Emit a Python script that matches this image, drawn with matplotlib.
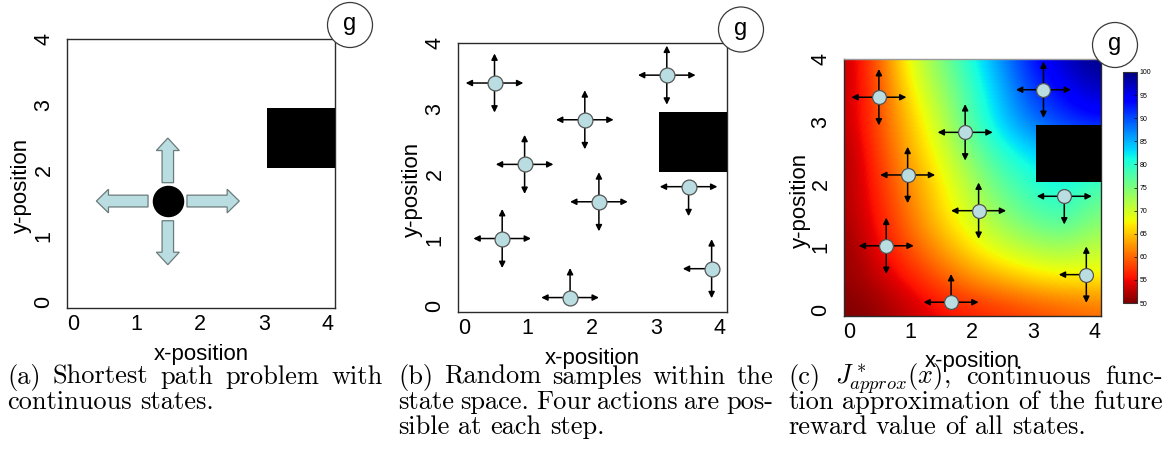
import numpy as np
import matplotlib
matplotlib.use("Agg")
import matplotlib.pyplot as plt
from matplotlib.patches import Rectangle, Circle

plt.rcParams["mathtext.fontset"] = "cm"
SANS = "Liberation Sans"
SERIF = "cmr10"

# ---------------- data ----------------
# obstacle (x0, x1, y0, y1)
obstacle = (3.05, 4.2, 2.03, 2.95)

# agent in panel (a) and its four block-arrow actions
agent_xy = (1.49, 1.53)
action_dirs = ["up", "down", "right", "left"]
action_start = [0.28, 0.30, 0.30, 0.31]
action_tip = [0.96, 0.97, 1.12, 1.12]

# random sample states (panels b and c) and the actions available at each
sample_x = [0.48, 3.17, 1.89, 0.95, 2.11, 3.51, 0.60, 3.87, 1.66]
sample_y = [3.39, 3.51, 2.83, 2.15, 1.58, 1.81, 1.02, 0.56, 0.12]
sample_actions = ["UDLR", "UDLR", "UDLR", "UDLR", "UDLR", "DLR", "UDLR", "UDL", "ULR"]
action_len = 0.45

# approximated future reward J*(x) on a coarse grid (rows: y = 0 .. 4, cols: x = 0 .. 4)
grid_x = [0.0, 0.5, 1.0, 1.5, 2.0, 2.5, 3.0, 3.5, 4.0]
grid_y = [0.0, 0.5, 1.0, 1.5, 2.0, 2.5, 3.0, 3.5, 4.0]
J_values = [
    [50, 51, 53, 55, 56, 57, 58, 59, 60],
    [51, 53, 56, 59, 62, 64, 66, 67, 67],
    [51, 55, 59, 63, 67, 70, 72, 73, 71],
    [52, 56, 61, 66, 70, 74, 77, 79, 75],
    [52, 57, 62, 67, 72, 77, 80, 81, 78],
    [52, 58, 64, 69, 75, 80, 83, 85, 85],
    [53, 59, 65, 71, 78, 84, 88, 91, 93],
    [53, 59, 67, 73, 79, 85, 91, 94, 97],
    [53, 60, 69, 75, 81, 87, 93, 97, 100],
]
cbar_ticks = [50, 55, 60, 65, 70, 75, 80, 85, 90, 95, 100]
axis_ticks = [0, 1, 2, 3, 4]

captions = {
    "a": ["(a) Shortest path problem with", "continuous states."],
    "b": ["(b) Random samples within the", "state space. Four actions are pos-",
          "sible at each step."],
    "c": [r"(c) $J^*_{approx}(x)$, continuous func-",
          "tion approximation of the future", "reward value of all states."],
}

# ---------------- figure ----------------
W, H = 1168, 457
fig = plt.figure(figsize=(W / 100, H / 100), dpi=100)


def px_axes(l, t, r, b):
    return fig.add_axes([l / W, 1 - b / H, (r - l) / W, (b - t) / H])


ax_a = px_axes(67, 39, 335, 308)
ax_b = px_axes(458, 43, 727, 312)
ax_c = px_axes(844, 59, 1101, 316)
cax = px_axes(1123, 72, 1137, 303)

XLIM = (-0.09, 4.11)
YLIM = (-0.10, 4.0)
EDGE = "#2a2a2a"
FILL = "#b9dde0"


def style_axes(ax, ylab_y):
    ax.set_xlim(*XLIM)
    ax.set_ylim(*YLIM)
    ax.set_xticks(axis_ticks)
    ax.set_yticks(axis_ticks)
    ax.tick_params(length=0, labelsize=15.5, colors="black")
    ax.tick_params(axis="x", pad=4)
    ax.tick_params(axis="y", pad=9, labelrotation=90)
    for lab in ax.get_xticklabels() + ax.get_yticklabels():
        lab.set_fontfamily(SANS)
    for lab in ax.get_yticklabels():
        lab.set_va("center")
    for s in ax.spines.values():
        s.set_color(EDGE)
        s.set_linewidth(1.0)
    ax.set_xlabel("x-position", fontsize=16, fontfamily=SANS)
    ax.set_ylabel("y-position", fontsize=16, fontfamily=SANS)
    ax.xaxis.set_label_coords(0.5, -0.135)
    ax.yaxis.set_label_coords(-0.13, ylab_y)


def goal(cx, cy, r=22.5):
    # goal marker sits across the top-right corner of each panel
    circ = Circle((cx, H - cy), r, transform=None, facecolor="white",
                  edgecolor="#3a3a3a", lw=0.9, zorder=10)
    fig.patches.append(circ)
    circ.set_figure(fig)
    fig.text(cx / W, 1 - (cy - 1) / H, "g", fontsize=17, fontfamily=SANS,
             ha="center", va="center", zorder=11)


def obstacle_patch(ax):
    ax.add_patch(Rectangle((obstacle[0], obstacle[2]), obstacle[1] - obstacle[0],
                           obstacle[3] - obstacle[2], facecolor="black",
                           edgecolor="none", zorder=3))


def samples(ax, size):
    for x, y, acts in zip(sample_x, sample_y, sample_actions):
        for a in acts:
            dx, dy = {"U": (0, 1), "D": (0, -1), "L": (-1, 0), "R": (1, 0)}[a]
            ax.annotate("", xy=(x + dx * action_len, y + dy * action_len), xytext=(x, y),
                        arrowprops=dict(arrowstyle="-|>", color="black", lw=1.1,
                                        mutation_scale=9, shrinkA=0, shrinkB=0),
                        zorder=4, annotation_clip=False)
    ax.scatter(sample_x, sample_y, s=size, facecolor=FILL, edgecolor="#555555",
               linewidth=0.9, zorder=6)


# ---- panel (a) ----
style_axes(ax_a, 0.454)
obstacle_patch(ax_a)
for d, s0, s1 in zip(action_dirs, action_start, action_tip):
    dx, dy = {"up": (0, 1), "down": (0, -1), "right": (1, 0), "left": (-1, 0)}[d]
    ax_a.arrow(agent_xy[0] + dx * s0, agent_xy[1] + dy * s0,
               dx * (s1 - s0), dy * (s1 - s0), width=0.18, head_width=0.36,
               head_length=0.19, length_includes_head=True,
               facecolor=FILL, edgecolor="#6b7b7b", lw=0.9, zorder=4)
ax_a.scatter([agent_xy[0]], [agent_xy[1]], s=470, color="black", zorder=5)
goal(350, 25)

# ---- panel (b) ----
style_axes(ax_b, 0.454)
obstacle_patch(ax_b)
samples(ax_b, 115)
goal(741, 29.5)

# ---- panel (c) ----
im = ax_c.imshow(np.array(J_values, dtype=float), origin="lower", cmap="jet_r",
                 vmin=50, vmax=100, interpolation="bicubic", aspect="auto",
                 extent=(grid_x[0] - 0.25, grid_x[-1] + 0.25,
                         grid_y[0] - 0.25, grid_y[-1] + 0.25), zorder=1)
style_axes(ax_c, 0.451)
obstacle_patch(ax_c)
samples(ax_c, 100)
ax_c.spines["top"].set_color("#9a9a9a")
goal(1115, 45)

cb = fig.colorbar(im, cax=cax, ticks=cbar_ticks)
cb.outline.set_linewidth(0.8)
cb.outline.set_edgecolor("#333333")
cax.tick_params(labelsize=5, length=2, width=0.5, direction="in", pad=2)
for lab in cax.get_yticklabels():
    lab.set_fontfamily(SANS)

# ---------------- captions ----------------
renderer = fig.canvas.get_renderer()


def text_width(s, size):
    t = fig.text(0, 0, s, fontsize=size, fontfamily=SERIF)
    w = t.get_window_extent(renderer).width
    t.remove()
    return w


def caption_line(text, x0, x1, base_y, justify, size=19):
    words = text.split(" ")
    yf = 1 - base_y / H
    objs = [fig.text(0, yf, w, fontsize=size, fontfamily=SERIF, va="baseline",
                     ha="left") for w in words]
    widths = [o.get_window_extent(renderer).width for o in objs]
    if justify and len(words) > 1:
        gap = (x1 - x0 - sum(widths)) / (len(words) - 1)
    else:
        gap = text_width("a a", size) - text_width("aa", size)
    x = x0
    for o, w in zip(objs, widths):
        o.set_x(x / W)
        x += w + gap


cap_x = {"a": (7, 383), "b": (398, 773), "c": (788, 1163)}
baselines = [384, 409, 434]
for key, lines in captions.items():
    x0, x1 = cap_x[key]
    for i, line in enumerate(lines):
        caption_line(line, x0, x1, baselines[i], justify=(i < len(lines) - 1))

fig.savefig("out.png", dpi=100)
